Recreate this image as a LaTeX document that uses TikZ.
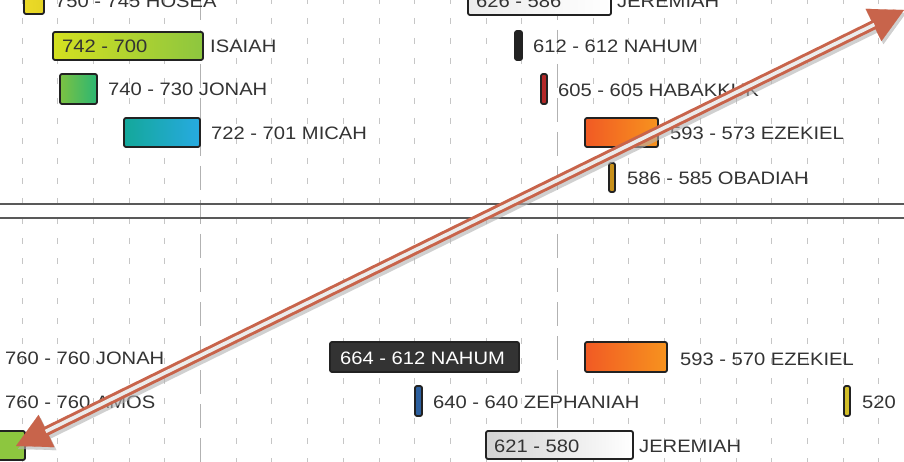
\documentclass[tikz,border=0pt]{standalone}
\usepackage{fontspec}
\setmainfont{Liberation Sans}[FakeStretch=1.12]
\usetikzlibrary{arrows.meta,calc}
\definecolor{ink}{HTML}{333333}
\definecolor{edge}{HTML}{222222}
\definecolor{arrowc}{RGB}{200,100,75}
\begin{document}
\begin{tikzpicture}[x=1pt,y=-1pt,
  lbl/.style={anchor=base west, inner sep=0pt, font=\fontsize{18}{20}\selectfont, text=ink},
  bar/.style={draw=edge, line width=1.8pt, rounded corners=2pt},
  minor/.style={gray!45, line width=0.9pt, dash pattern=on 6pt off 14pt},
  major/.style={gray!60, line width=1.1pt, dash pattern=on 24pt off 10pt},
  hline/.style={black!65, line width=1.4pt},
  tipA/.style={{Triangle[length=34pt,width=36pt]}-{Triangle[length=34pt,width=36pt]}}]
\useasboundingbox (0,0) rectangle (904,462);
\clip (0,0) rectangle (904,462);
\fill[white] (0,0) rectangle (904,462);
% grid
\foreach \k in {0,...,4,6,7,...,14,16,17,...,24}{
  \pgfmathsetmacro\xx{22+35.7*\k}
  \draw[minor] (\xx,-2) -- (\xx,464);
}
\foreach \k in {5,15}{
  \pgfmathsetmacro\xx{22+35.7*\k}
  \draw[major] (\xx,-4) -- (\xx,464);
}
\draw[hline] (0,204) -- (904,204);
\draw[hline] (0,218) -- (904,218);

% ---- top section ----
\path[bar, left color={rgb,255:red,236;green,218;blue,40}, right color={rgb,255:red,228;green,212;blue,36}] (24,-6) rectangle (44,14);
\node[lbl] (hosea) at (55,8) {750 - 745 HOSEA};

\path[bar, left color={rgb,255:red,212;green,224;blue,32}, right color={rgb,255:red,141;green,198;blue,63}] (53,32) rectangle (203,60);
\node[lbl] (isaiahin) at (62,53) {742 - 700};
\node[lbl] (isaiah) at (210,53) {ISAIAH};

\path[bar, left color={rgb,255:red,124;green,194;blue,66}, right color={rgb,255:red,43;green,182;blue,115}] (60,74) rectangle (97,104);
\node[lbl] (jonahtop) at (108,96) {740 - 730 JONAH};

\path[bar, left color={rgb,255:red,20;green,168;blue,154}, right color={rgb,255:red,39;green,170;blue,225}] (124,118) rectangle (200,147);
\node[lbl] (micah) at (211,140) {722 - 701 MICAH};

\path[bar, left color=gray!15, right color=white] (468,-6) rectangle (611,15);
\node[lbl] (jertopin) at (476,8) {626 - 586};
\node[lbl] (jertop) at (617,8) {JEREMIAH};

\path[bar, fill=edge] (515,31) rectangle (522,60);
\node[lbl] (nahumtop) at (533,53) {612 - 612 NAHUM};

\path[bar, fill={rgb,255:red,178;green,40;blue,40}] (541,74) rectangle (547,104);
\node[lbl] (habakkuk) at (558,97) {605 - 605 HABAKKUK};

\path[bar, left color={rgb,255:red,241;green,90;blue,36}, right color={rgb,255:red,247;green,147;blue,30}] (585,118) rectangle (658,147);
\node[lbl] (ezekieltop) at (670,140) {593 - 573 EZEKIEL};

\path[bar, fill={rgb,255:red,200;green,144;blue,26}] (609,163) rectangle (615,192);
\node[lbl] (obadiah) at (627,185) {586 - 585 OBADIAH};

% ---- bottom section ----
\node[lbl] (jonahbot) at (5,364) {760 - 760 JONAH};
\path[bar, fill=ink] (330,342) rectangle (519,372);
\node[lbl, text=white] (nahumbot) at (340,364) {664 - 612 NAHUM};
\path[bar, left color={rgb,255:red,241;green,90;blue,36}, right color={rgb,255:red,247;green,147;blue,30}] (585,342) rectangle (667,372);
\node[lbl] (ezekielbot) at (680,365) {593 - 570 EZEKIEL};

\node[lbl] (amos) at (5,408) {760 - 760 AMOS};
\path[bar, fill={rgb,255:red,44;green,95;blue,158}] (415,386) rectangle (422,416);
\node[lbl] (zephaniah) at (433,408) {640 - 640 ZEPHANIAH};
\path[bar, fill={rgb,255:red,210;green,190;blue,40}] (844,386) rectangle (850,416);
\node[lbl] (fivetwenty) at (862,408) {520};

\path[bar, fill={rgb,255:red,141;green,198;blue,63}] (-6,431) rectangle (25,460);
\path[bar, left color=gray!35, right color=white] (486,431) rectangle (633,459);
\node[lbl] (jerbotin) at (494,452) {621 - 580};
\node[lbl] (jerbot) at (639,452) {JEREMIAH};

% ---- arrow ----
\coordinate (A) at (16,446);
\coordinate (B) at (904,10);
\begin{scope}[transform canvas={shift={(2pt,-3pt)}}]
  \draw[black!30, opacity=0.6, line width=0.1pt, tipA] (A) -- (B);
  \draw[black!30, opacity=0.6, line width=10pt] ($(A)!33pt!(B)$) -- ($(B)!33pt!(A)$);
\end{scope}
\draw[arrowc, line width=0.1pt, tipA] (A) -- (B);
\draw[arrowc, line width=3pt, double=gray!15, double distance=3.6pt] ($(A)!33pt!(B)$) -- ($(B)!33pt!(A)$);
\end{tikzpicture}
\end{document}
